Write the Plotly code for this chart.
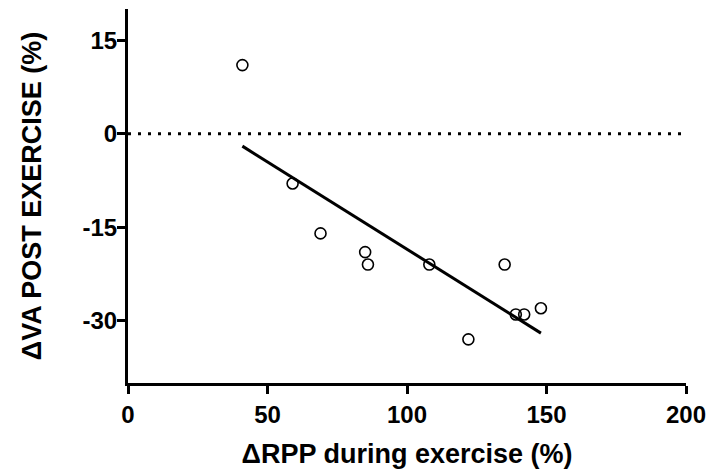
import plotly.graph_objects as go

# Data
rpp = [41, 59, 69, 85, 86, 108, 122, 135, 139, 142, 148]
va = [11, -8, -16, -19, -21, -21, -33, -21, -29, -29, -28]

fit_x = [41, 148]
fit_y = [-2.0, -32.0]

zero_x = [0, 200]
zero_y = [0, 0]

x_ticks = [0, 50, 100, 150, 200]
x_labels = ["0", "50", "100", "150", "200"]
y_ticks = [-30, -15, 0, 15]
y_labels = ["-30", "-15", "0", "15"]

FONT = "Liberation Sans, Arial, sans-serif"

fig = go.Figure()
fig.add_trace(go.Scatter(x=zero_x, y=zero_y, mode="lines",
                         line=dict(color="black", width=3, dash="3px,7px"),
                         hoverinfo="skip", showlegend=False))
fig.add_trace(go.Scatter(x=fit_x, y=fit_y, mode="lines",
                         line=dict(color="black", width=3),
                         showlegend=False))
fig.add_trace(go.Scatter(x=rpp, y=va, mode="markers",
                         marker=dict(symbol="circle-open", size=11,
                                     color="black", line=dict(width=1.6)),
                         showlegend=False))

fig.update_layout(
    width=708, height=470,
    margin=dict(l=128, r=22, t=9, b=87, autoexpand=False),
    plot_bgcolor="white", paper_bgcolor="white",
    font=dict(family=FONT, color="black"),
    xaxis=dict(range=[0, 200], tickvals=x_ticks, ticktext=x_labels,
               showgrid=False, zeroline=False, automargin=False,
               showline=True, linecolor="black", linewidth=3,
               ticks="outside", ticklen=8, tickwidth=3, tickcolor="black",
               ticklabeloverflow="allow",
               tickfont=dict(size=24, weight="bold", family=FONT),
               title=dict(text="ΔRPP during exercise (%)", standoff=18,
                          font=dict(size=27, weight="bold", family=FONT))),
    yaxis=dict(range=[-40, 20], tickvals=y_ticks, ticktext=y_labels,
               showgrid=False, zeroline=False, automargin=False,
               showline=True, linecolor="black", linewidth=3,
               ticks="outside", ticklen=8, tickwidth=3, tickcolor="black",
               ticklabelstandoff=-5, ticklabeloverflow="allow",
               tickfont=dict(size=24, weight="bold", family=FONT),
               title=dict(text="ΔVA POST EXERCISE (%)", standoff=34,
                          font=dict(size=27, weight="bold", family=FONT))),
)

fig.write_html("out.html",
               config={"displayModeBar": False},
               post_script="document.body.style.margin='0';"
                           "document.body.style.overflow='hidden';")
